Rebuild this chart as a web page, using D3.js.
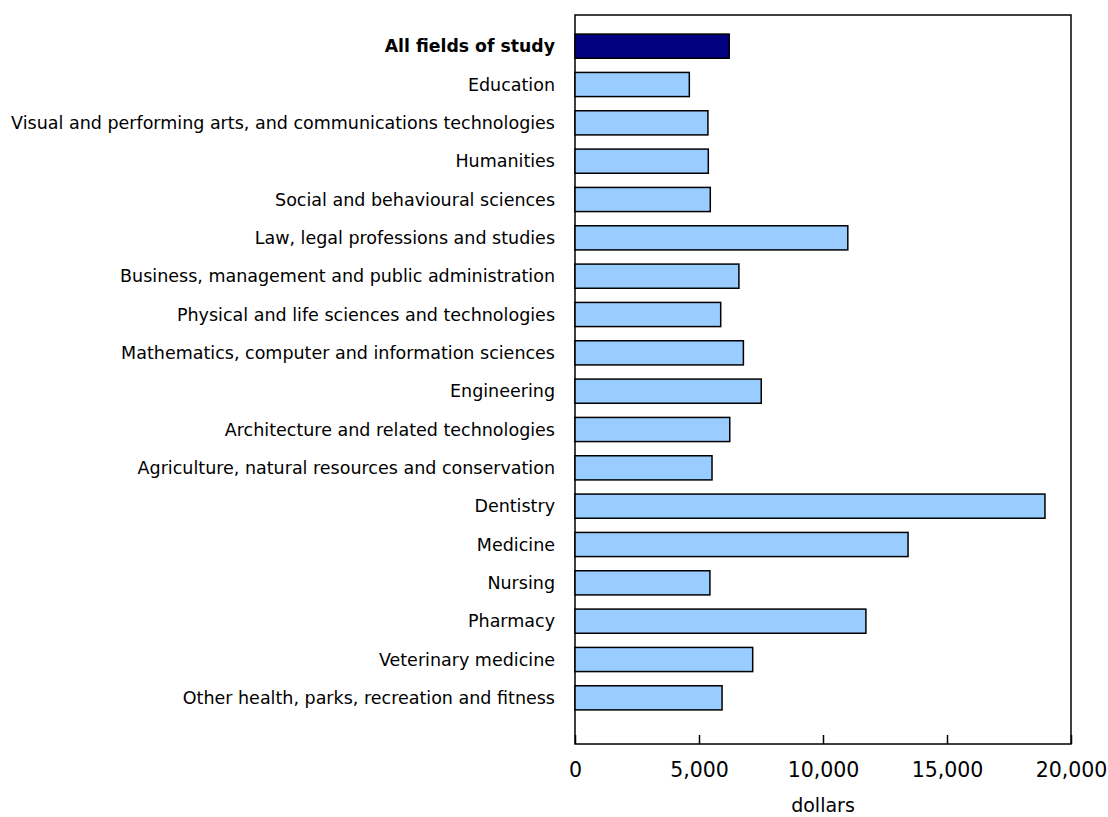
<!DOCTYPE html>
<html>
<head>
<meta charset="utf-8">
<script src="https://cdn.jsdelivr.net/npm/d3@7"></script>
<style>
  body { margin: 0; background: #fff; }
  text { font-family: "DejaVu Sans", Verdana, sans-serif; fill: #000; }
</style>
</head>
<body>
<div id="chart"></div>
<script>
// data
var categories = [
	"All fields of study",
	"Education",
	"Visual and performing arts, and communications technologies",
	"Humanities",
	"Social and behavioural sciences",
	"Law, legal professions and studies",
	"Business, management and public administration",
	"Physical and life sciences and technologies",
	"Mathematics, computer and information sciences",
	"Engineering",
	"Architecture and related technologies",
	"Agriculture, natural resources and conservation",
	"Dentistry",
	"Medicine",
	"Nursing",
	"Pharmacy",
	"Veterinary medicine",
	"Other health, parks, recreation and fitness"
];
var values = [6220, 4610, 5360, 5375, 5455, 11000, 6610, 5875, 6790, 7510, 6240, 5525, 18950, 13430, 5440, 11730, 7165, 5930];
var xTicks = [0, 5000, 10000, 15000, 20000];
var xTitle = "dollars";

var width = 1108, height = 817;
// plot frame (don't call it "top", that's window.top)
var m_left = 575, m_right = 1071, m_top = 15, m_bottom = 744;

var svg = d3.select("#chart")
	.append("svg")
	.attr("width", width)
	.attr("height", height);

var x = d3.scaleLinear()
	.domain([0, 20000])
	.range([m_left, m_right]);

var y = d3.scaleBand()
	.domain(categories)
	.range([27, 717])
	.paddingInner(0.37)
	.paddingOuter(0.185);

// frame
svg.append("rect")
	.attr("x", m_left)
	.attr("y", m_top)
	.attr("width", m_right - m_left)
	.attr("height", m_bottom - m_top)
	.style("fill", "none")
	.style("stroke", "#000")
	.style("stroke-width", 1.5);

// bars
svg.selectAll(".bar")
	.data(values)
	.enter()
	.append("rect")
	.attr("class", "bar")
	.attr("x", x(0))
	.attr("y", (d, i) => y(categories[i]))
	.attr("width", d => x(d) - x(0))
	.attr("height", y.bandwidth())
	.style("fill", (d, i) => i == 0 ? "#000080" : "#99ccff")
	.style("stroke", "#000")
	.style("stroke-width", 1.5);

// category labels
svg.selectAll(".cat")
	.data(categories)
	.enter()
	.append("text")
	.attr("class", "cat")
	.attr("x", m_left - 20)
	.attr("y", d => y(d) + y.bandwidth() / 2)
	.attr("dy", "0.35em")
	.attr("text-anchor", "end")
	.attr("font-size", (d, i) => i == 0 ? "17.3px" : "17.5px")
	.attr("font-weight", (d, i) => i == 0 ? "bold" : "normal")
	.text(d => d);

// x axis
var xAxis = d3.axisBottom(x)
	.tickValues(xTicks)
	.tickSize(-9)
	.tickPadding(18)
	.tickFormat(d3.format(","));

var gx = svg.append("g")
	.attr("transform", "translate(0," + m_bottom + ")")
	.call(xAxis);
gx.select(".domain").remove();
gx.selectAll("line").style("stroke", "#000").style("stroke-width", 1.5);
gx.selectAll("text")
	.attr("font-size", "20.5px")
	.style("font-family", "'DejaVu Sans', Verdana, sans-serif");

svg.append("text")
	.attr("x", (m_left + m_right) / 2)
	.attr("y", 805)
	.attr("dy", "0.35em")
	.attr("text-anchor", "middle")
	.attr("font-size", "19px")
	.text(xTitle);
</script>
</body>
</html>
